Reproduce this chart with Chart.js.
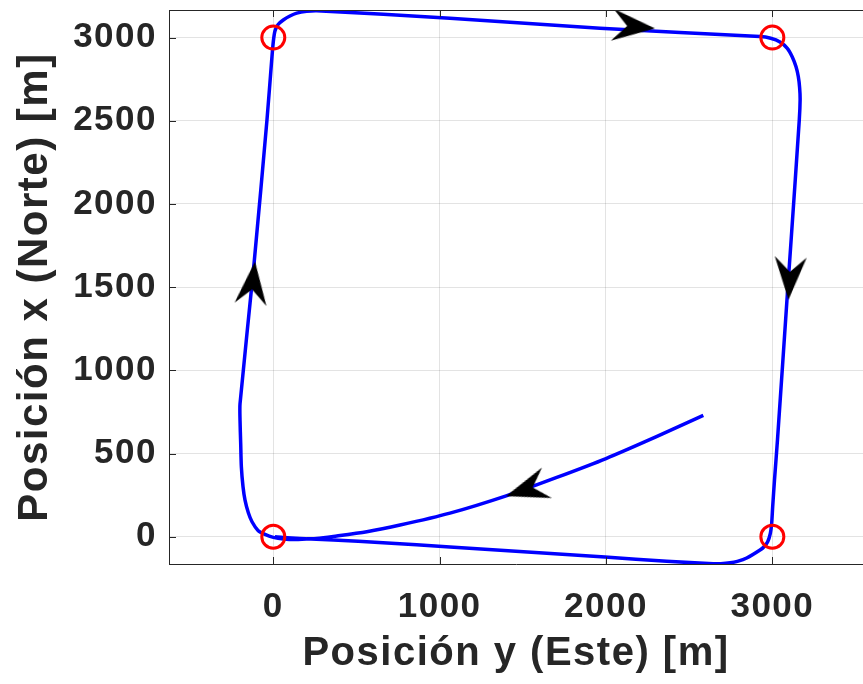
<!DOCTYPE html>
<html>
<head>
<meta charset="utf-8">
<script src="https://cdn.jsdelivr.net/npm/chart.js@4.4.1/dist/chart.umd.min.js"></script>
<style>
  html, body { margin: 0; padding: 0; background: #fff; }
</style>
</head>
<body>
<canvas id="trayectoria" width="863" height="684"></canvas>
<script>
// trayectoria del vehiculo: posicion y (Este) y posicion x (Norte), en metros
const pathEste = [2585, 2300, 2000, 1700, 1400, 1062, 762, 562, 361, 261, 150, 60, 0, -50, -92, -128, -150, -170, -182, -192, -196, -200, -200,
  -115, -38, -10, 0, 10, 30, 60, 100, 141, 200, 261, 1062, 1964, 2926, 2990, 3046, 3090, 3120, 3142, 3156, 3164, 3167, 3162,
  3113, 3092, 3031, 3013, 3002, 2996, 2988, 2972, 2950, 2926, 2846, 2790, 2746, 2690, 2645, 2365, 1994, 1062, 660, 361, 160, 60, 10];
const pathNorte = [729, 600, 470, 355, 246, 142, 70, 30, 2, -10, -17, -14, -4, 14, 38, 90, 144, 220, 300, 420, 560, 700, 800,
  1650, 2505, 2860, 2975, 3040, 3080, 3106, 3130, 3147, 3158, 3162, 3117, 3056, 3006, 2996, 2974, 2936, 2884, 2826, 2766, 2700, 2626, 2506,
  1785, 1484, 583, 342, 180, 80, 20, -30, -60, -80, -128, -148, -157, -162, -162, -148, -122, -62, -36, -20, -10, -4, 0];

// waypoints
const wpEste = [0, 0, 3000, 3000];
const wpNorte = [0, 3000, 3000, 0];

// flechas de sentido (punta) y su angulo en grados
const arrowEste = [2295, 3097, -110, 1399];
const arrowNorte = [3055, 1424, 1654, 244];
const arrowAngle = [5, 93, -84, 162];

const xTicks = [0, 1000, 2000, 3000];
const yTicks = [0, 500, 1000, 1500, 2000, 2500, 3000];

function toPoints(xs, ys) {
  return xs.map((x, i) => ({ x: x, y: ys[i] }));
}

// punta de flecha negra, la punta queda en el centro del canvas
function makeArrow() {
  const c = document.createElement('canvas');
  c.width = 92;
  c.height = 40;
  const g = c.getContext('2d');
  g.fillStyle = '#000';
  g.beginPath();
  g.moveTo(46, 20);
  g.lineTo(3, 4);
  g.lineTo(18, 20);
  g.lineTo(3, 36);
  g.closePath();
  g.fill();
  return c;
}

const spacing = {
  id: 'spacing',
  beforeUpdate(chart) { chart.ctx.letterSpacing = '1.5px'; },
  beforeDraw(chart) { chart.ctx.letterSpacing = '1.5px'; }
};

// borde superior y marcas hacia dentro, como en matlab
const axisBox = {
  id: 'axisBox',
  afterDatasetsDraw(chart) {
    const ctx = chart.ctx;
    const a = chart.chartArea;
    const sx = chart.scales.x, sy = chart.scales.y;
    ctx.save();
    ctx.strokeStyle = '#262626';
    ctx.lineWidth = 1;
    ctx.beginPath();
    ctx.moveTo(a.left, a.top + 0.5);
    ctx.lineTo(a.right, a.top + 0.5);
    xTicks.forEach(v => {
      const px = Math.round(sx.getPixelForValue(v)) + 0.5;
      ctx.moveTo(px, a.bottom);
      ctx.lineTo(px, a.bottom - 7);
      ctx.moveTo(px, a.top);
      ctx.lineTo(px, a.top + 7);
    });
    yTicks.forEach(v => {
      const py = Math.round(sy.getPixelForValue(v)) + 0.5;
      ctx.moveTo(a.left, py);
      ctx.lineTo(a.left + 7, py);
    });
    ctx.stroke();
    ctx.restore();
  }
};

const tickFont = { family: 'Liberation Sans', size: 35, weight: 'bold' };

new Chart(document.getElementById('trayectoria'), {
  type: 'scatter',
  data: {
    datasets: [
      {
        label: 'flechas',
        data: toPoints(arrowEste, arrowNorte),
        pointStyle: makeArrow(),
        rotation: arrowAngle,
        pointRadius: 5,
        showLine: false
      },
      {
        label: 'waypoints',
        data: toPoints(wpEste, wpNorte),
        pointStyle: 'circle',
        pointRadius: 11.5,
        borderColor: '#ff0000',
        borderWidth: 3,
        backgroundColor: 'rgba(0,0,0,0)',
        showLine: false
      },
      {
        label: 'trayectoria',
        data: toPoints(pathEste, pathNorte),
        showLine: true,
        borderColor: '#0000ff',
        borderWidth: 3.5,
        pointRadius: 0,
        tension: 0.25,
        fill: false
      }
    ]
  },
  options: {
    responsive: false,
    animation: false,
    layout: { autoPadding: false, padding: { top: 10, right: 0, bottom: 0, left: 0 } },
    plugins: {
      legend: { display: false },
      tooltip: { enabled: false }
    },
    scales: {
      x: {
        type: 'linear',
        min: -627,
        max: 3545,
        afterBuildTicks: s => { s.ticks = xTicks.map(v => ({ value: v })); },
        afterFit: s => { s.height = 120; s.paddingLeft = 0; s.paddingRight = 0; },
        grid: { color: 'rgba(38,38,38,0.13)', drawTicks: false },
        border: { color: '#262626', width: 1 },
        ticks: { color: '#262626', font: tickFont, padding: 22, maxRotation: 0, callback: v => String(v) },
        title: {
          display: true,
          text: 'Posición y (Este) [m]',
          color: '#262626',
          font: { family: 'Liberation Sans', size: 40, weight: 'bold' },
          padding: { top: 0, bottom: 6 }
        }
      },
      y: {
        type: 'linear',
        min: -164,
        max: 3166,
        afterBuildTicks: s => { s.ticks = yTicks.map(v => ({ value: v })); },
        afterFit: s => { s.width = 169; s.paddingTop = 0; s.paddingBottom = 0; },
        grid: { color: 'rgba(38,38,38,0.13)', drawTicks: false },
        border: { color: '#262626', width: 1 },
        ticks: { color: '#262626', font: tickFont, padding: 12, callback: v => String(v) },
        title: {
          display: true,
          text: 'Posición x (Norte) [m]',
          color: '#262626',
          font: { family: 'Liberation Sans', size: 42, weight: 'bold' },
          padding: { top: 10, bottom: 0 }
        }
      }
    }
  },
  plugins: [spacing, axisBox]
});
</script>
</body>
</html>
